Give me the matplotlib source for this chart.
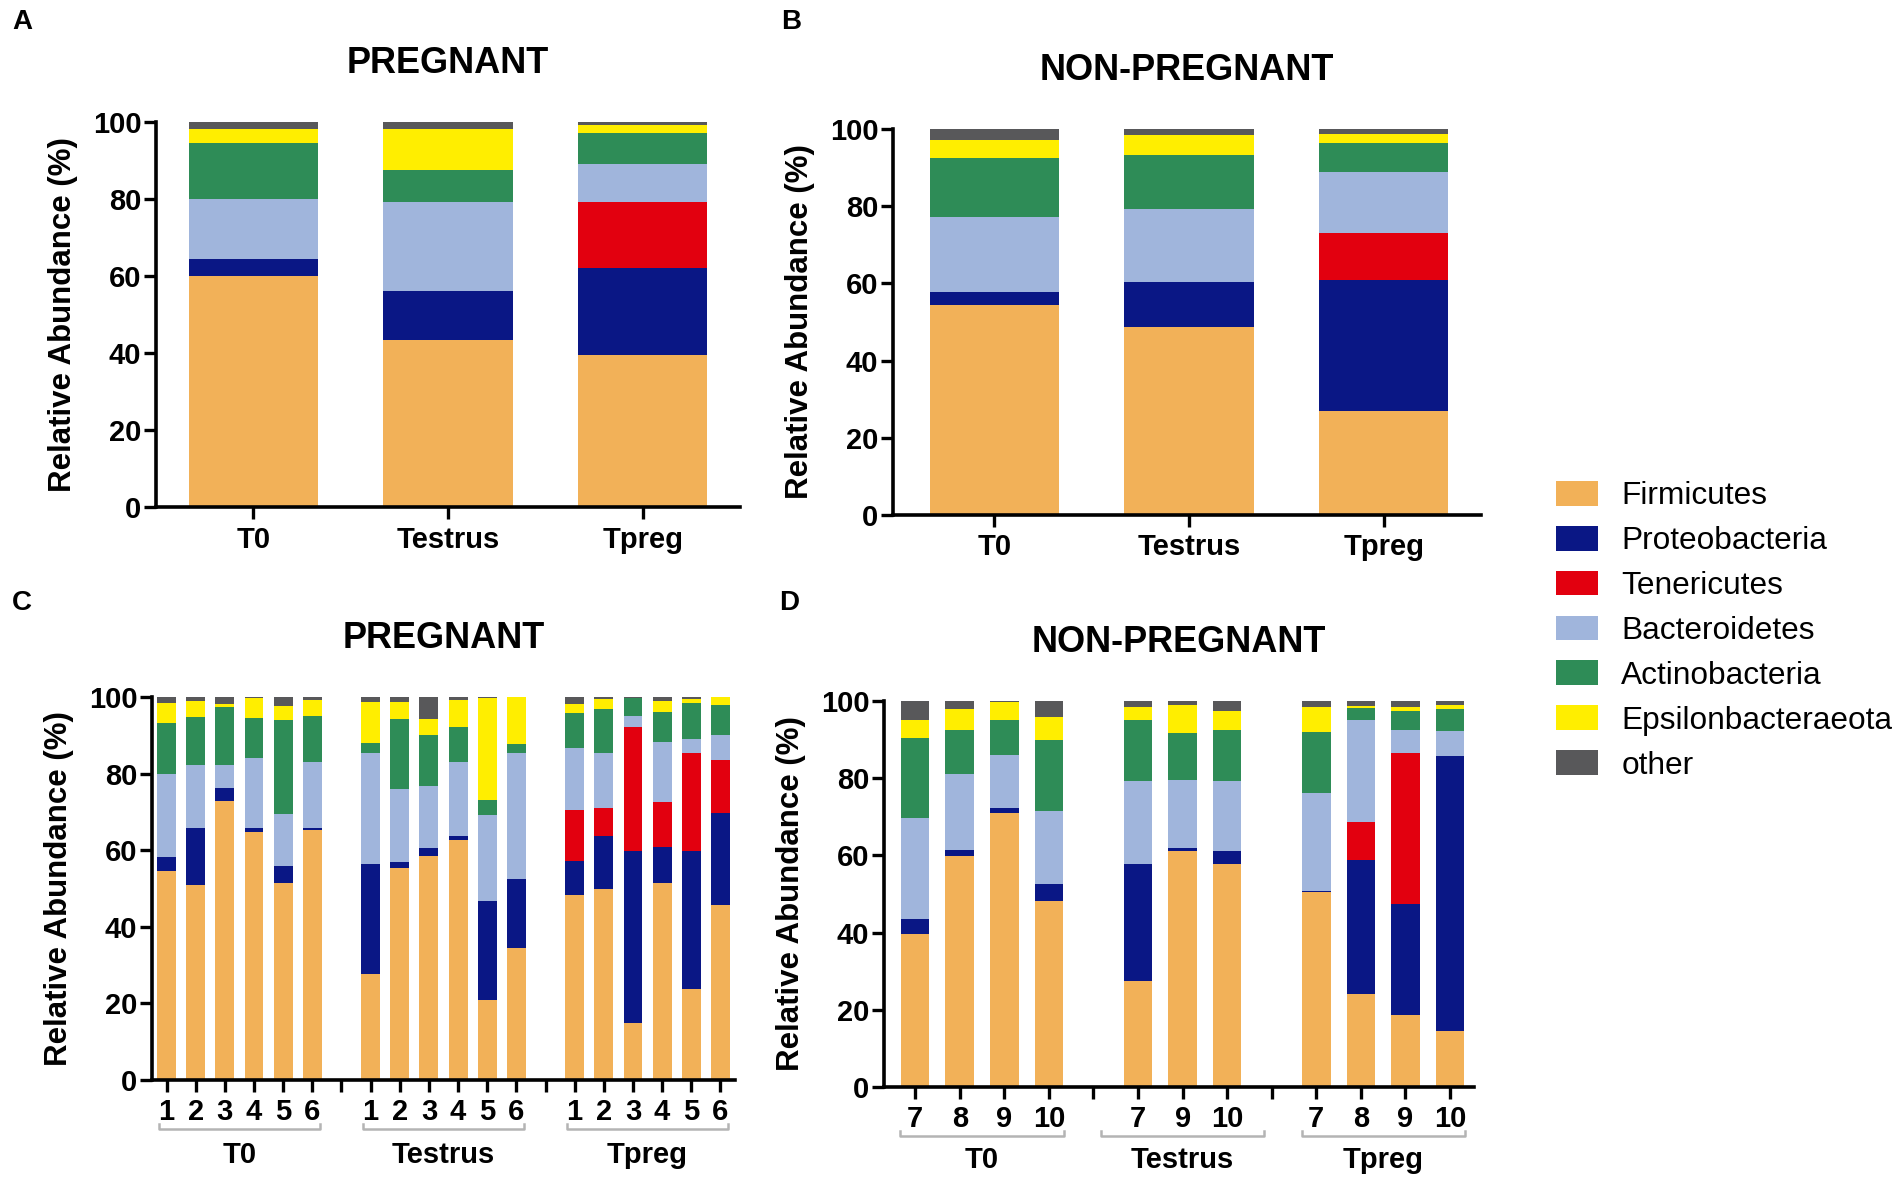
import matplotlib
matplotlib.use("Agg")
import matplotlib.pyplot as plt
import matplotlib.transforms as mtrans
from matplotlib.patches import Patch
import numpy as np

plt.rcParams["font.family"] = ["Liberation Sans", "DejaVu Sans"]

W, H = 1902, 1189

PHYLA = ["Firmicutes", "Proteobacteria", "Tenericutes", "Bacteroidetes",
         "Actinobacteria", "Epsilonbacteraeota", "other"]
COLORS = ["#F2B158", "#0A1785", "#E2000F", "#A0B5DC", "#2E8C57", "#FFEE00", "#58585A"]
GROUPS = ["T0", "Testrus", "Tpreg"]

# rows = bars, columns follow PHYLA
a_means = [
    [60.0, 4.5, 0.0, 15.5, 14.6, 3.7, 1.7],
    [43.5, 12.7, 0.0, 22.9, 8.4, 10.8, 1.7],
    [39.5, 22.6, 17.0, 9.9, 8.2, 1.9, 0.9],
]
b_means = [
    [54.5, 3.3, 0.0, 19.5, 15.1, 4.7, 2.9],
    [48.7, 11.7, 0.0, 19.0, 13.9, 5.1, 1.6],
    [26.9, 33.9, 12.3, 15.8, 7.6, 2.2, 1.3],
]

c_ids = [["1", "2", "3", "4", "5", "6"]] * 3
c_samples = [
    [54.6, 3.6, 0.0, 21.6, 13.4, 5.3, 1.5],
    [50.8, 14.9, 0.0, 16.5, 12.6, 4.2, 1.0],
    [72.9, 3.4, 0.0, 5.9, 15.2, 0.7, 1.9],
    [64.7, 1.0, 0.0, 18.3, 10.4, 5.3, 0.3],
    [51.4, 4.4, 0.0, 13.6, 24.7, 3.6, 2.3],
    [65.3, 0.4, 0.0, 17.4, 12.0, 4.0, 0.9],
    [27.6, 28.8, 0.0, 28.9, 2.7, 10.7, 1.3],
    [55.3, 1.6, 0.0, 19.2, 18.1, 4.5, 1.3],
    [58.5, 2.0, 0.0, 16.3, 13.2, 4.2, 5.8],
    [62.7, 0.9, 0.0, 19.3, 9.3, 6.9, 0.9],
    [20.8, 26.0, 0.0, 22.4, 3.9, 26.6, 0.3],
    [34.5, 18.0, 0.0, 32.8, 2.4, 12.3, 0.0],
    [48.4, 8.7, 13.4, 16.1, 9.2, 2.5, 1.7],
    [50.0, 13.6, 7.5, 14.4, 11.3, 2.6, 0.6],
    [15.0, 44.9, 32.3, 2.9, 4.6, 0.0, 0.3],
    [51.4, 9.4, 11.9, 15.6, 7.8, 2.9, 1.0],
    [23.7, 36.2, 25.4, 3.7, 9.5, 1.1, 0.4],
    [45.6, 24.2, 13.7, 6.5, 7.8, 2.2, 0.0],
]

d_ids = [["7", "8", "9", "10"], ["7", "9", "10"], ["7", "8", "9", "10"]]
d_samples = [
    [39.6, 3.8, 0.0, 26.2, 20.7, 4.8, 4.9],
    [59.8, 1.6, 0.0, 19.6, 11.5, 5.4, 2.1],
    [71.0, 1.2, 0.0, 13.8, 9.2, 4.6, 0.2],
    [48.1, 4.4, 0.0, 19.1, 18.3, 5.9, 4.2],
    [27.4, 30.5, 0.0, 21.4, 15.8, 3.4, 1.5],
    [61.2, 0.6, 0.0, 17.7, 12.1, 7.4, 1.0],
    [57.9, 3.2, 0.0, 18.2, 13.2, 5.0, 2.5],
    [50.6, 0.2, 0.0, 25.3, 15.9, 6.5, 1.5],
    [24.0, 34.9, 9.8, 26.4, 3.0, 0.6, 1.3],
    [18.6, 28.9, 38.9, 6.1, 4.9, 1.1, 1.5],
    [14.5, 71.3, 0.0, 6.4, 5.7, 1.1, 1.0],
]


def px_axes(fig, left, right, top, bottom):
    return fig.add_axes([left / W, 1 - bottom / H, (right - left) / W, (bottom - top) / H])


def stacked(ax, x, rows, width):
    vals = np.array(rows).T
    bottom = np.zeros(len(x))
    for v, c in zip(vals, COLORS):
        ax.bar(x, v, width, bottom=bottom, color=c, linewidth=0)
        bottom += v


def style(ax, title, xpad, xsize):
    for side in ("top", "right"):
        ax.spines[side].set_visible(False)
    for side in ("left", "bottom"):
        ax.spines[side].set_linewidth(2.6)
    ax.set_ylim(0, 100)
    ax.set_yticks(range(0, 101, 20))
    ax.tick_params(direction="out", length=8.5, width=2.4)
    ax.tick_params(axis="y", pad=2, labelsize=21)
    ax.tick_params(axis="x", pad=xpad, labelsize=xsize)
    for lab in ax.get_yticklabels() + ax.get_xticklabels():
        lab.set_fontweight("bold")
    ax.set_ylabel("Relative Abundance (%)", fontsize=22.5, fontweight="bold", labelpad=11)
    ax.set_title(title, fontsize=26, fontweight="bold", pad=35)


def sample_panel(ax, ids, rows, width, bracket_half, y_br, y_lab):
    pos, centers = [], []
    slot = 0
    for grp in ids:
        start = slot
        for _ in grp:
            pos.append(slot)
            slot += 1
        centers.append((start + slot - 1) / 2)
        slot += 1
    total = slot - 1
    stacked(ax, pos, rows, width)
    tick_labels = [""] * total
    flat = [s for grp in ids for s in grp]
    for p, s in zip(pos, flat):
        tick_labels[p] = s
    ax.set_xticks(range(total))
    ax.set_xticklabels(tick_labels)
    trans = mtrans.blended_transform_factory(ax.transData, ax.transAxes)
    for c, name in zip(centers, GROUPS):
        x0, x1 = c - bracket_half, c + bracket_half
        ax.plot([x0, x0, x1, x1], [y_br + 0.014, y_br, y_br, y_br + 0.014], color="#B4B4B4",
                linewidth=1.8, transform=trans, clip_on=False)
        ax.text(c, y_lab, name, transform=trans, ha="center", va="center",
                fontsize=21, fontweight="bold")


fig = plt.figure(figsize=(W / 100, H / 100), dpi=100)
fig.patch.set_facecolor("white")

# A
ax_a = px_axes(fig, 156, 740, 122, 507)
stacked(ax_a, range(3), a_means, 0.665)
ax_a.set_xticks(range(3))
ax_a.set_xticklabels(GROUPS)
ax_a.set_xlim(-0.5, 2.5)
style(ax_a, "PREGNANT", 5, 21)

# B
ax_b = px_axes(fig, 893, 1481, 129, 515)
stacked(ax_b, range(3), b_means, 0.665)
ax_b.set_xticks(range(3))
ax_b.set_xticklabels(GROUPS)
ax_b.set_xlim(-0.52, 2.5)
style(ax_b, "NON-PREGNANT", 4.5, 21)

# C
ax_c = px_axes(fig, 152, 735, 697, 1080)
sample_panel(ax_c, c_ids, c_samples, 0.65, 2.75, -0.128, -0.196)
ax_c.set_xlim(-0.5, 19.5)
style(ax_c, "PREGNANT", 4.5, 21)

# D
ax_d = px_axes(fig, 884, 1474, 701, 1087)
sample_panel(ax_d, d_ids, d_samples, 0.64, 1.83, -0.128, -0.190)
ax_d.set_xlim(-0.7, 12.54)
style(ax_d, "NON-PREGNANT", 4.5, 21)

for letter, (x, y) in zip("ABCD", [(22, 22), (791, 22), (22, 603), (789, 603)]):
    fig.text(x / W, 1 - y / H, letter, ha="center", va="center", fontsize=20, fontweight="bold")

handles = [Patch(facecolor=c, edgecolor="none") for c in COLORS]
fig.legend(handles, PHYLA, loc="upper left", bbox_to_anchor=(1556 / W, 1 - 481 / H),
           frameon=False, fontsize=22.8, handlelength=1.33, handleheight=0.82,
           handletextpad=0.73, labelspacing=0.46, borderpad=0, borderaxespad=0)

fig.savefig("out.png", dpi=100, facecolor="white")
